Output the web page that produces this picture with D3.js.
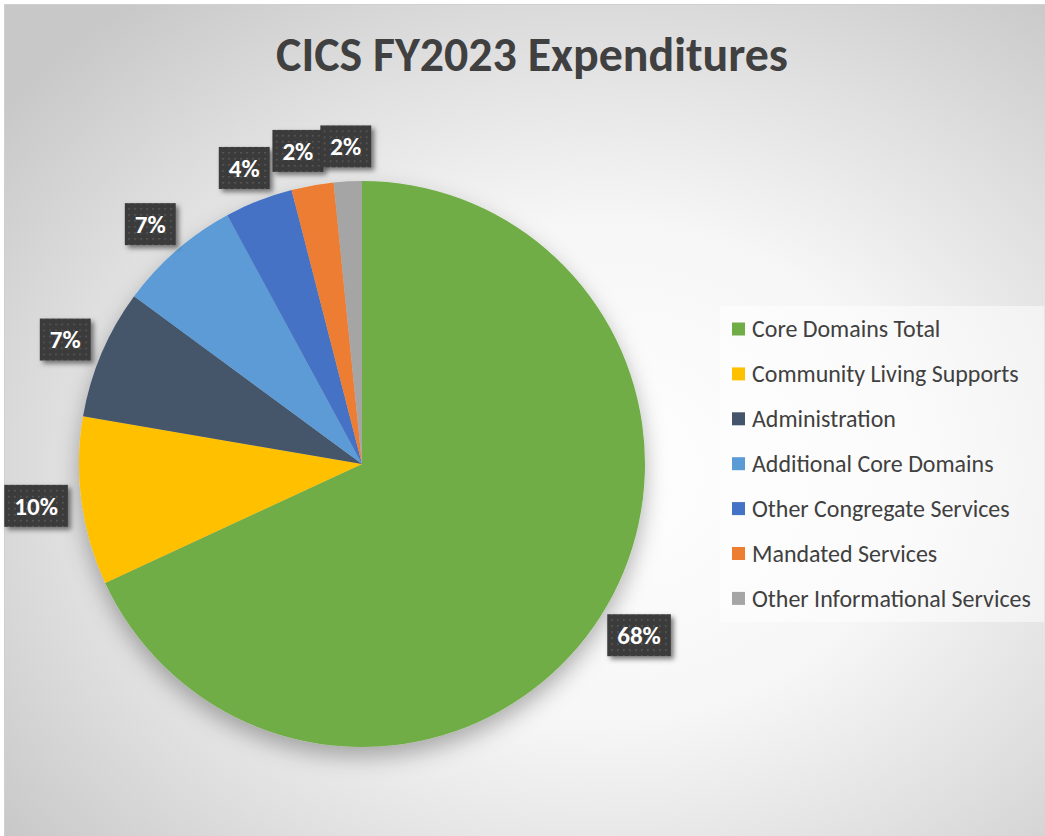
<!DOCTYPE html>
<html lang="en">
<head>
<meta charset="utf-8">
<title>CICS FY2023 Expenditures</title>
<script src="https://cdn.jsdelivr.net/npm/d3@7"></script>
<style>
  html, body { margin: 0; padding: 0; background: #fff; }
  svg { display: block; }
  text { font-family: Carlito, "Open Sans", Lato, sans-serif; }
</style>
</head>
<body>
<script>
// data (percent of total)
var categories = ["Core Domains Total", "Community Living Supports", "Administration",
                  "Additional Core Domains", "Other Congregate Services", "Mandated Services",
                  "Other Informational Services"];
var values = [68.1, 9.6, 7.4, 7.0, 3.9, 2.4, 1.6];
var colors = ["#70AD47", "#FFC000", "#44546A", "#5B9BD5", "#4472C4", "#ED7D31", "#A5A5A5"];
var title = "CICS FY2023 Expenditures";

var w = 1045, h = 836;
var cx = 362, cy = 464, radius = 283;
var labelGap = 14;

var svg = d3.select("body").append("svg")
    .attr("width", w)
    .attr("height", h);

var defs = svg.append("defs");

var bg = defs.append("radialGradient")
    .attr("id", "bg")
    .attr("cx", 0.57).attr("cy", 0.56).attr("r", 0.72);
bg.append("stop").attr("offset", 0).attr("stop-color", "#ffffff");
bg.append("stop").attr("offset", 0.42).attr("stop-color", "#f6f6f6");
bg.append("stop").attr("offset", 0.72).attr("stop-color", "#dfdfdf");
bg.append("stop").attr("offset", 1).attr("stop-color", "#c8c8c8");

defs.append("filter").attr("id", "pieShadow")
    .attr("x", "-20%").attr("y", "-20%").attr("width", "140%").attr("height", "140%")
  .append("feDropShadow")
    .attr("dx", 0).attr("dy", 10).attr("stdDeviation", 11)
    .attr("flood-color", "#000").attr("flood-opacity", 0.3);

defs.append("filter").attr("id", "boxShadow")
    .attr("x", "-30%").attr("y", "-30%").attr("width", "160%").attr("height", "160%")
  .append("feDropShadow")
    .attr("dx", 3).attr("dy", 3).attr("stdDeviation", 2.5)
    .attr("flood-color", "#000").attr("flood-opacity", 0.5);

var dots = defs.append("pattern")
    .attr("id", "dots")
    .attr("patternUnits", "userSpaceOnUse")
    .attr("width", 6).attr("height", 6);
dots.append("rect").attr("width", 6).attr("height", 6).attr("fill", "#3a3a3a");
dots.append("rect").attr("x", 2).attr("y", 2).attr("width", 1.6).attr("height", 1.6).attr("fill", "#5c5c5c");

// chart area
svg.append("rect")
    .attr("x", 4.5).attr("y", 4.5)
    .attr("width", w).attr("height", h)
    .attr("fill", "url(#bg)")
    .attr("stroke", "#d0d0d0");

// title, sized to the width it has in the picture
var titleText = svg.append("text")
    .attr("x", 532).attr("y", 71)
    .attr("text-anchor", "middle")
    .attr("font-weight", "bold")
    .attr("font-size", 40)
    .attr("fill", "#404040")
    .text(title);
var tw = titleText.node().getComputedTextLength();
titleText.attr("font-size", 40 * 512 / tw);

// pie
var pie = d3.pie().sort(null).value(function(d) { return d; });
var arcs = pie(values);
var arc = d3.arc().innerRadius(0).outerRadius(radius);

var g = svg.append("g").attr("transform", "translate(" + cx + "," + cy + ")");

g.append("g")
    .attr("filter", "url(#pieShadow)")
  .selectAll("path")
  .data(arcs)
  .enter().append("path")
    .attr("d", arc)
    .attr("fill", function(d, i) { return colors[i]; });

// data labels ("outside end": box sits just off the rim)
var fmt = function(v) { return Math.round(v) + "%"; };
var labels = arcs.map(function(d, i) {
    return { text: fmt(values[i]), angle: (d.startAngle + d.endAngle) / 2 };
});

var lab = g.append("g").selectAll("g.lab")
    .data(labels)
  .enter().append("g")
    .attr("class", "lab");

lab.append("rect").attr("fill", "url(#dots)").attr("filter", "url(#boxShadow)");
lab.append("text")
    .attr("text-anchor", "middle")
    .attr("dy", "0.35em")
    .attr("font-weight", "bold")
    .attr("font-size", 25)
    .attr("fill", "#fff")
    .text(function(d) { return d.text; });

lab.each(function(d) {
    d.w = d3.select(this).select("text").node().getComputedTextLength() + 20;
    d.h = 42;
    var sx = Math.sin(d.angle), cy_ = -Math.cos(d.angle), r = radius + labelGap;
    d.x = sx * r + sx * d.w / 2;
    d.y = cy_ * r + cy_ * d.h / 2;
});

// push overlapping neighbours apart (small slices near the top)
for (var i = labels.length - 2; i >= 0; i--) {
    var a = labels[i], b = labels[i + 1];
    if (Math.abs(a.y - b.y) < a.h && a.x < b.x) {
        var overlap = (a.x + a.w / 2) - (b.x - b.w / 2) - 3;
        if (overlap > 0) a.x -= overlap;
    }
}

lab.attr("transform", function(d) { return "translate(" + d.x + "," + d.y + ")"; });
lab.select("rect")
    .attr("x", function(d) { return -d.w / 2; })
    .attr("y", function(d) { return -d.h / 2; })
    .attr("width", function(d) { return d.w; })
    .attr("height", function(d) { return d.h; });

// legend
var legendX = 720, legendY = 306, rowH = 44.9;
svg.append("rect")
    .attr("x", legendX).attr("y", legendY)
    .attr("width", 324).attr("height", 316)
    .attr("fill", "#ffffff").attr("fill-opacity", 0.5);

var item = svg.append("g").selectAll("g.item")
    .data(categories)
  .enter().append("g")
    .attr("class", "item")
    .attr("transform", function(d, i) { return "translate(" + (legendX + 12) + "," + (legendY + 23 + i * rowH) + ")"; });

item.append("rect")
    .attr("x", 0).attr("y", -6.5)
    .attr("width", 13).attr("height", 13)
    .attr("fill", function(d, i) { return colors[i]; });

var itemText = item.append("text")
    .attr("x", 20)
    .attr("dy", "0.35em")
    .attr("font-size", 20)
    .attr("fill", "#404040")
    .text(function(d) { return d; });

var widest = d3.max(itemText.nodes(), function(n) { return n.getComputedTextLength(); });
itemText.attr("font-size", 20 * 279 / widest);
</script>
</body>
</html>
